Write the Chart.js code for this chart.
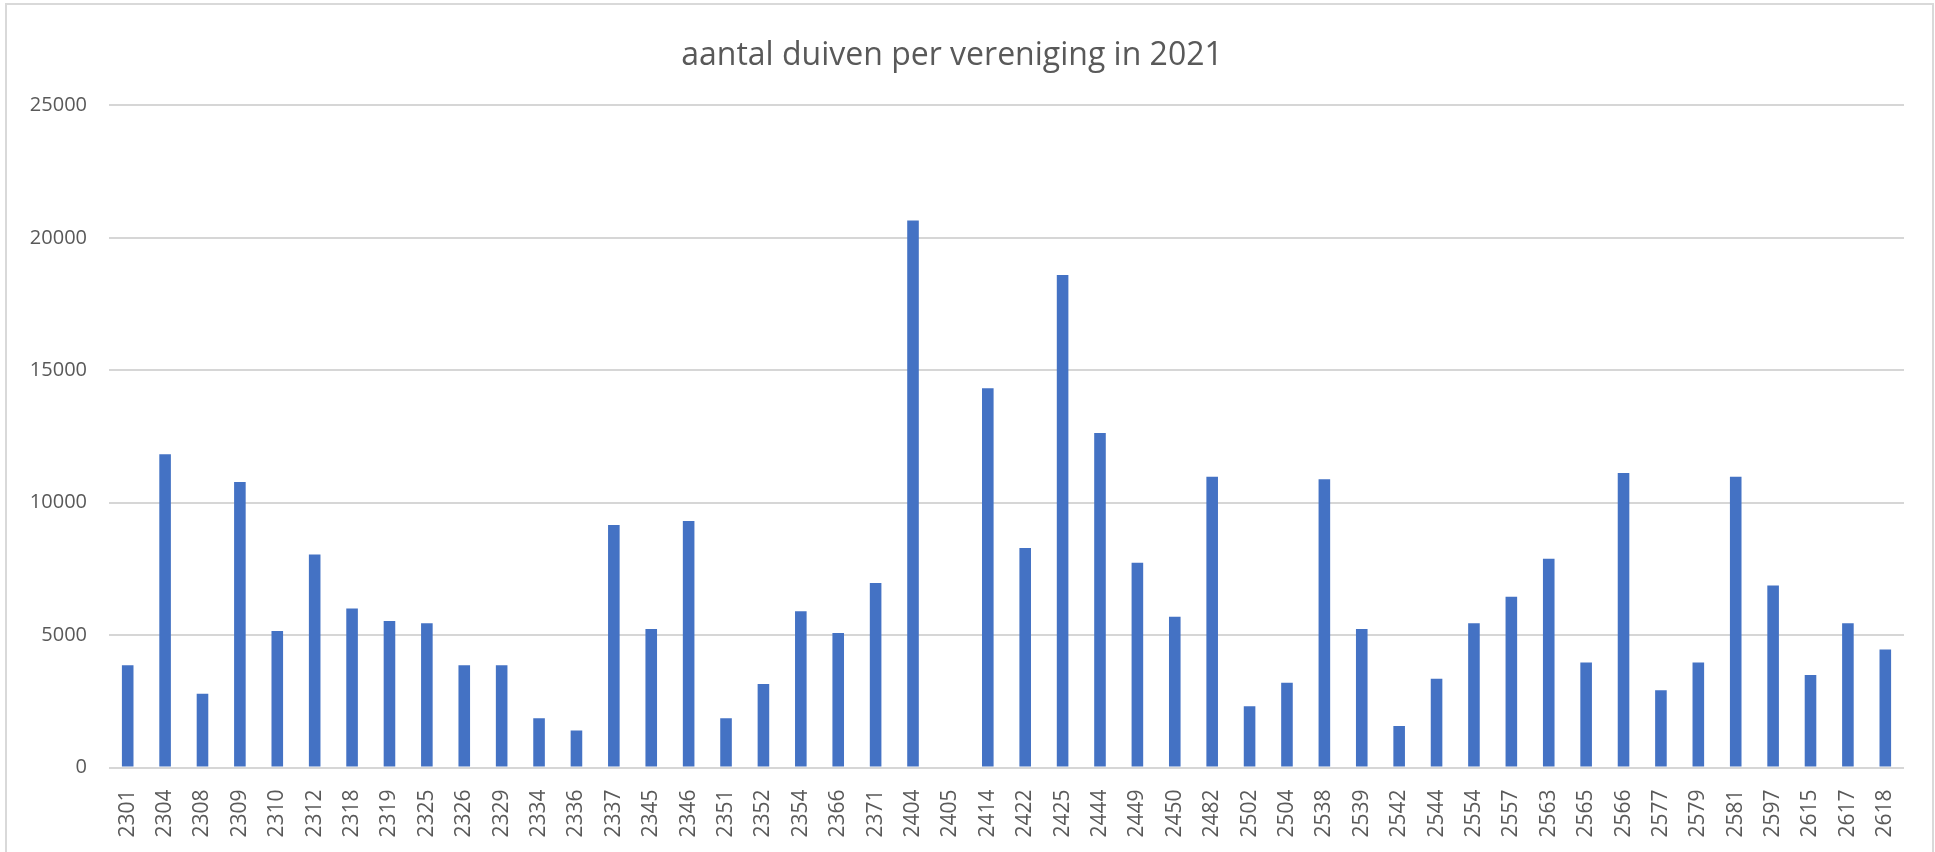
<!DOCTYPE html>
<html>
<head>
<meta charset="utf-8">
<script src="https://cdn.jsdelivr.net/npm/chart.js@4"></script>
<style>
  html, body { margin: 0; padding: 0; background: #fff; }
  canvas { display: block; }
</style>
</head>
<body>
<canvas id="chart" width="1935" height="852"></canvas>
<script>
const verenigingen = ['2301','2304','2308','2309','2310','2312','2318','2319','2325','2326','2329','2334','2336','2337','2345','2346',
  '2351','2352','2354','2366','2371','2404','2405','2414','2422','2425','2444','2449','2450','2482',
  '2502','2504','2538','2539','2542','2544','2554','2557','2563','2565','2566','2577','2579','2581','2597','2615','2617','2618'];
const aantalDuiven = [3860,11830,2780,10780,5150,8040,6000,5530,5450,3860,3860,1860,1400,9160,5230,9310,
  1860,3150,5900,5080,6970,20650,0,14320,8290,18600,12630,7730,5690,10980,
  2310,3200,10880,5230,1570,3350,5450,6450,7880,3960,11120,2920,3960,10980,6870,3490,5450,4460];
const yTicks = [0, 5000, 10000, 15000, 20000, 25000];

// light frame round the chart, like the Excel chart border
const frame = {
  id: 'frame',
  beforeDraw(chart) {
    const c = chart.ctx;
    c.save();
    c.strokeStyle = '#d9d9d9';
    c.lineWidth = 2;
    c.strokeRect(6, 4, chart.width - 8, chart.height + 10);
    c.restore();
  }
};

const ctx = document.getElementById('chart').getContext('2d');
new Chart(ctx, {
  type: 'bar',
  data: {
    labels: verenigingen,
    datasets: [{
      label: 'aantal duiven',
      data: aantalDuiven,
      backgroundColor: '#4472C4',
      barPercentage: 0.31,
      categoryPercentage: 1
    }]
  },
  options: {
    responsive: false,
    animation: false,
    layout: { padding: { left: 0, right: 31, top: 0, bottom: 0 } },
    plugins: {
      legend: { display: false },
      tooltip: { enabled: false },
      title: {
        display: true,
        text: 'aantal duiven per vereniging in 2021',
        color: '#595959',
        font: { family: 'Open Sans', size: 32, weight: 'normal' },
        padding: { top: 37, bottom: 30 }
      }
    },
    scales: {
      x: {
        grid: { display: false },
        border: { display: false },
        ticks: {
          autoSkip: false, maxRotation: 90, minRotation: 90, padding: 14,
          color: '#595959', font: { family: 'Open Sans', size: 21 }
        },
        afterFit(scale) { scale.height = 84.5; }
      },
      y: {
        min: 0, max: 25000,
        afterBuildTicks(scale) { scale.ticks = yTicks.map(v => ({ value: v })); },
        grid: { color: '#d6d6d6', lineWidth: 2, drawTicks: false },
        border: { display: false },
        ticks: {
          padding: 22, color: '#595959', font: { family: 'Open Sans', size: 20 },
          callback: v => String(v)
        },
        afterFit(scale) { scale.width = 109; }
      }
    }
  },
  plugins: [frame]
});
</script>
</body>
</html>
